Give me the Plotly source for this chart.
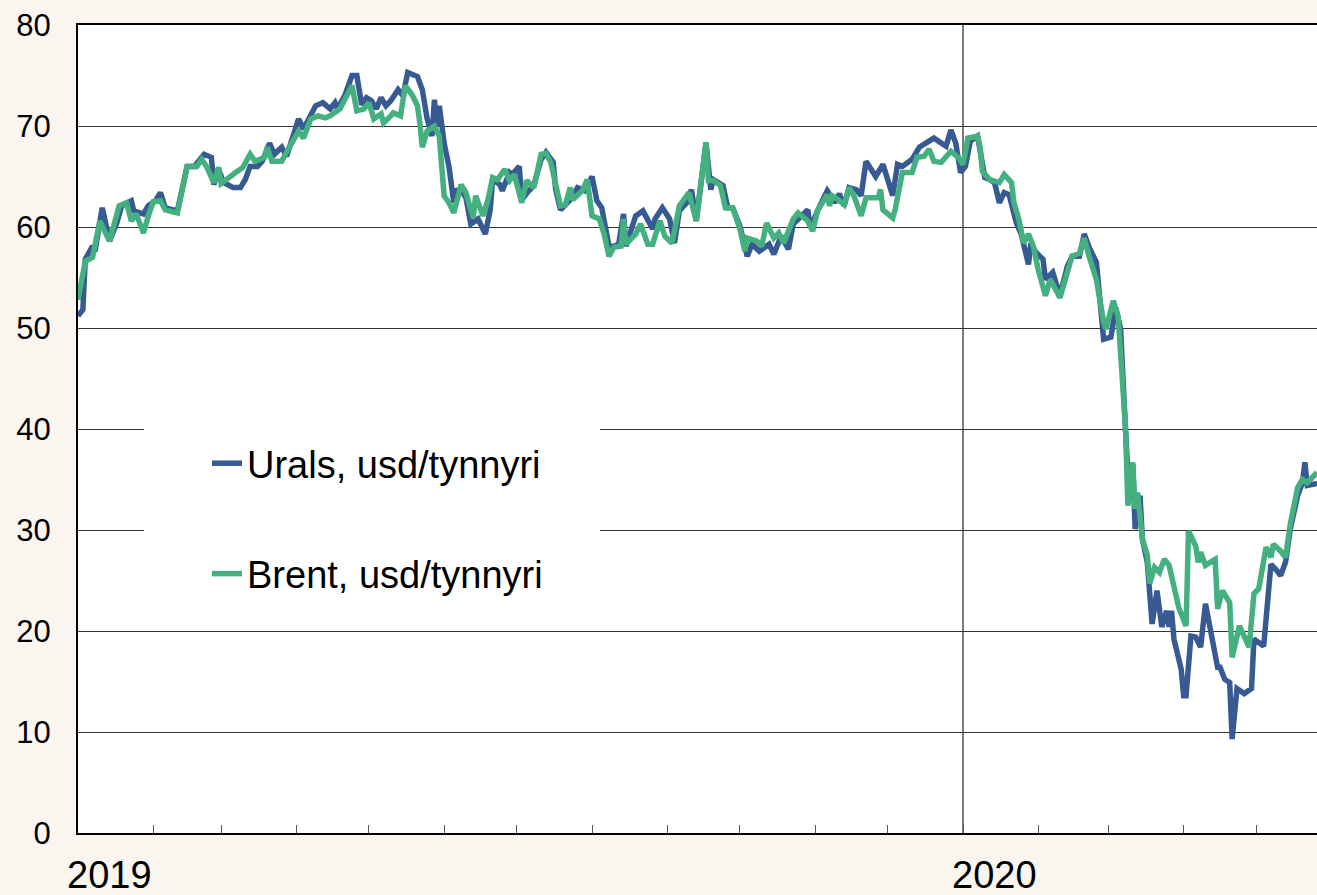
import plotly.graph_objects as go

# ---------------- data ----------------
urals_dates = [
    "2019-01-01","2019-01-03","2019-01-04","2019-01-07","2019-01-08","2019-01-11","2019-01-14","2019-01-17",
    "2019-01-19","2019-01-23","2019-01-24","2019-01-28","2019-01-30","2019-02-02","2019-02-04","2019-02-06",
    "2019-02-11","2019-02-15","2019-02-18","2019-02-22","2019-02-25","2019-02-26","2019-02-28","2019-03-02",
    "2019-03-06","2019-03-09","2019-03-11","2019-03-13","2019-03-16","2019-03-18","2019-03-21","2019-03-23",
    "2019-03-26","2019-03-28","2019-04-02","2019-04-04","2019-04-09","2019-04-12","2019-04-15","2019-04-17",
    "2019-04-18","2019-04-21","2019-04-24","2019-04-26","2019-04-28","2019-04-30","2019-05-02","2019-05-04",
    "2019-05-06","2019-05-08","2019-05-10","2019-05-13","2019-05-15","2019-05-17","2019-05-21","2019-05-23",
    "2019-05-25","2019-05-27","2019-05-28","2019-05-29","2019-05-30","2019-06-01","2019-06-03","2019-06-04",
    "2019-06-05","2019-06-06","2019-06-08","2019-06-10","2019-06-12","2019-06-15","2019-06-18","2019-06-20",
    "2019-06-21","2019-06-24","2019-06-25","2019-06-28","2019-06-29","2019-07-02","2019-07-03","2019-07-06",
    "2019-07-08","2019-07-11","2019-07-13","2019-07-16","2019-07-17","2019-07-19","2019-07-23","2019-07-26",
    "2019-07-28","2019-07-29","2019-08-01","2019-08-03","2019-08-05","2019-08-08","2019-08-10","2019-08-12",
    "2019-08-14","2019-08-15","2019-08-19","2019-08-22","2019-08-26","2019-08-27","2019-08-30","2019-09-02",
    "2019-09-04","2019-09-06","2019-09-09","2019-09-11","2019-09-13","2019-09-17","2019-09-19","2019-09-20",
    "2019-09-24","2019-09-26","2019-09-28","2019-10-01","2019-10-04","2019-10-06","2019-10-09","2019-10-13",
    "2019-10-15","2019-10-18","2019-10-21","2019-10-23","2019-10-29","2019-10-30","2019-11-02","2019-11-06",
    "2019-11-08","2019-11-09","2019-11-11","2019-11-13","2019-11-15","2019-11-18","2019-11-20","2019-11-22",
    "2019-11-26","2019-11-29","2019-12-03","2019-12-05","2019-12-07","2019-12-11","2019-12-14","2019-12-17",
    "2019-12-20","2019-12-25","2019-12-27","2019-12-29","2019-12-31","2020-01-02","2020-01-04","2020-01-07",
    "2020-01-09","2020-01-10","2020-01-12","2020-01-14","2020-01-16","2020-01-18","2020-01-20","2020-01-23",
    "2020-01-25","2020-01-28","2020-01-29","2020-01-31","2020-02-03","2020-02-04","2020-02-07","2020-02-10",
    "2020-02-13","2020-02-15","2020-02-18","2020-02-20","2020-02-22","2020-02-25","2020-02-28","2020-03-02",
    "2020-03-04","2020-03-06","2020-03-08","2020-03-09","2020-03-11","2020-03-12","2020-03-14","2020-03-15",
    "2020-03-17","2020-03-19","2020-03-21","2020-03-23","2020-03-25","2020-03-26","2020-03-27","2020-03-28",
    "2020-03-31","2020-04-01","2020-04-02","2020-04-04","2020-04-06","2020-04-08","2020-04-10","2020-04-13",
    "2020-04-15","2020-04-16","2020-04-18","2020-04-20","2020-04-21","2020-04-23","2020-04-26","2020-04-29",
    "2020-04-30","2020-05-04","2020-05-07","2020-05-09","2020-05-11","2020-05-13","2020-05-15","2020-05-18",
    "2020-05-20","2020-05-21","2020-05-22","2020-05-26",
]
urals = [
    51.2, 51.8, 56.8, 58.1, 57.6, 61.9, 58.6, 60.4,
    62.1, 62.6, 61.6, 61.3, 62.1, 62.6, 63.4, 61.9,
    61.6, 66.0, 66.0, 67.2, 66.9, 64.2, 65.7, 64.4,
    63.9, 63.9, 64.7, 66.0, 66.0, 66.5, 68.3, 67.2,
    67.9, 67.0, 70.7, 69.7, 72.0, 72.3, 71.7, 72.3,
    71.7, 73.0, 75.0, 75.0, 72.1, 72.8, 72.5, 71.7,
    72.8, 72.0, 72.5, 73.6, 73.0, 75.3, 74.9, 73.6,
    70.7, 69.0, 72.6, 70.0, 72.0, 68.3, 66.0, 64.4,
    62.4, 63.6, 63.7, 62.9, 60.3, 60.8, 59.3, 61.7,
    64.7, 64.2, 63.6, 65.4, 65.2, 66.0, 62.7, 63.6,
    64.1, 66.7, 67.4, 66.4, 63.7, 61.7, 62.7, 63.9,
    63.7, 63.6, 65.0, 62.6, 61.9, 58.1, 58.1, 58.3,
    61.3, 58.1, 61.1, 61.6, 59.8, 60.8, 61.9, 60.8,
    58.4, 61.6, 62.4, 63.7, 60.6, 68.3, 63.7, 64.7,
    64.1, 61.9, 61.9, 60.1, 57.1, 58.3, 57.6, 58.3,
    57.3, 59.1, 57.8, 60.3, 61.7, 59.9, 61.6, 63.6,
    62.9, 62.4, 63.3, 62.1, 63.9, 63.7, 63.1, 66.5,
    65.0, 66.2, 63.1, 66.2, 66.0, 66.7, 67.9, 68.3,
    68.8, 68.0, 69.6, 68.3, 65.4, 66.0, 68.5, 69.0,
    66.7, 64.9, 64.7, 64.4, 62.4, 63.4, 63.2, 60.4,
    59.3, 56.3, 58.4, 57.5, 56.8, 54.8, 55.5, 53.2,
    56.1, 57.1, 57.1, 59.3, 58.0, 56.5, 48.9, 49.1,
    52.0, 49.9, 40.0, 35.7, 36.5, 30.1, 33.4, 29.1,
    26.8, 20.7, 24.0, 20.4, 22.0, 20.4, 22.0, 19.2,
    16.2, 13.6, 13.6, 19.5, 19.4, 18.4, 22.7, 19.0,
    16.4, 16.4, 15.2, 14.9, 9.3, 14.3, 13.8, 14.3,
    19.2, 18.5, 26.6, 26.1, 25.5, 26.8, 30.1, 33.4,
    34.7, 36.7, 34.4, 34.6,
]

brent_dates = [
    "2019-01-01","2019-01-04","2019-01-07","2019-01-10","2019-01-14","2019-01-16","2019-01-18","2019-01-21",
    "2019-01-23","2019-01-25","2019-01-28","2019-01-30","2019-02-01","2019-02-04","2019-02-06","2019-02-11",
    "2019-02-15","2019-02-19","2019-02-21","2019-02-23","2019-02-26","2019-02-28","2019-03-01","2019-03-07",
    "2019-03-10","2019-03-13","2019-03-15","2019-03-19","2019-03-20","2019-03-22","2019-03-26","2019-03-28",
    "2019-03-30","2019-04-02","2019-04-04","2019-04-07","2019-04-10","2019-04-13","2019-04-15","2019-04-17",
    "2019-04-19","2019-04-21","2019-04-24","2019-04-26","2019-04-29","2019-05-01","2019-05-03","2019-05-06",
    "2019-05-07","2019-05-10","2019-05-11","2019-05-14","2019-05-16","2019-05-19","2019-05-21","2019-05-22",
    "2019-05-23","2019-05-25","2019-05-28","2019-05-30","2019-06-01","2019-06-03","2019-06-05","2019-06-08",
    "2019-06-10","2019-06-13","2019-06-14","2019-06-17","2019-06-19","2019-06-21","2019-06-23","2019-06-26",
    "2019-06-28","2019-06-30","2019-07-02","2019-07-03","2019-07-05","2019-07-08","2019-07-11","2019-07-13",
    "2019-07-15","2019-07-19","2019-07-21","2019-07-23","2019-07-24","2019-07-28","2019-07-30","2019-08-01",
    "2019-08-04","2019-08-06","2019-08-08","2019-08-10","2019-08-13","2019-08-14","2019-08-15","2019-08-19",
    "2019-08-21","2019-08-24","2019-08-26","2019-08-29","2019-08-31","2019-09-03","2019-09-06","2019-09-10",
    "2019-09-13","2019-09-17","2019-09-18","2019-09-20","2019-09-23","2019-09-25","2019-09-28","2019-10-01",
    "2019-10-03","2019-10-04","2019-10-08","2019-10-10","2019-10-12","2019-10-15","2019-10-17","2019-10-19",
    "2019-10-23","2019-10-25","2019-10-29","2019-10-31","2019-11-02","2019-11-06","2019-11-07","2019-11-08",
    "2019-11-10","2019-11-13","2019-11-15","2019-11-17","2019-11-20","2019-11-22","2019-11-27","2019-11-28",
    "2019-11-29","2019-12-03","2019-12-04","2019-12-07","2019-12-11","2019-12-13","2019-12-16","2019-12-18",
    "2019-12-20","2019-12-23","2019-12-27","2019-12-30","2020-01-01","2020-01-03","2020-01-07","2020-01-08",
    "2020-01-09","2020-01-12","2020-01-16","2020-01-18","2020-01-21","2020-01-22","2020-01-24","2020-01-26",
    "2020-01-28","2020-01-30","2020-02-01","2020-02-04","2020-02-06","2020-02-10","2020-02-13","2020-02-15",
    "2020-02-18","2020-02-20","2020-02-22","2020-02-25","2020-02-28","2020-02-29","2020-03-03","2020-03-05",
    "2020-03-06","2020-03-08","2020-03-09","2020-03-11","2020-03-12","2020-03-13","2020-03-15","2020-03-17",
    "2020-03-18","2020-03-20","2020-03-22","2020-03-24","2020-03-26","2020-03-28","2020-03-30","2020-04-02",
    "2020-04-03","2020-04-06","2020-04-07","2020-04-08","2020-04-10","2020-04-14","2020-04-15","2020-04-17",
    "2020-04-20","2020-04-21","2020-04-24","2020-04-28","2020-04-30","2020-05-02","2020-05-05","2020-05-07",
    "2020-05-08","2020-05-11","2020-05-13","2020-05-15","2020-05-18","2020-05-20","2020-05-22","2020-05-26",
]
brent = [
    52.8, 56.6, 57.0, 60.6, 58.6, 60.4, 62.1, 62.4,
    60.6, 61.3, 59.4, 61.1, 62.5, 62.6, 61.7, 61.4,
    66.0, 66.0, 66.7, 66.0, 64.4, 65.9, 64.3, 65.4,
    65.9, 67.2, 66.5, 66.9, 67.9, 66.5, 66.5, 67.4,
    68.2, 69.5, 68.8, 70.7, 71.0, 70.8, 71.0, 71.3,
    71.7, 72.6, 74.0, 71.5, 71.7, 72.3, 70.7, 71.2,
    70.3, 71.0, 71.3, 71.0, 74.0, 73.0, 72.0, 70.3,
    67.9, 69.5, 70.0, 69.0, 63.1, 62.4, 61.4, 64.2,
    63.4, 60.9, 63.1, 61.1, 62.6, 64.9, 64.7, 65.7,
    64.6, 65.2, 63.6, 62.4, 64.6, 63.9, 67.2, 67.3,
    66.4, 62.1, 62.2, 63.9, 62.7, 63.6, 64.7, 61.1,
    60.8, 59.3, 57.1, 58.0, 58.1, 60.8, 58.3, 59.3,
    60.3, 58.3, 58.3, 60.6, 59.1, 58.4, 62.1, 63.4,
    60.6, 68.4, 64.6, 64.6, 64.1, 61.9, 61.9, 59.8,
    57.6, 58.9, 58.6, 58.1, 60.4, 58.9, 59.4, 58.4,
    60.8, 61.4, 60.6, 59.6, 61.6, 63.2, 62.1, 63.1,
    62.8, 62.2, 63.9, 63.1, 61.1, 62.9, 62.9, 63.7,
    61.7, 60.9, 61.7, 65.4, 65.4, 66.9, 67.0, 67.7,
    66.5, 66.4, 67.5, 66.9, 66.2, 68.8, 69.0, 68.0,
    65.5, 64.7, 64.4, 65.2, 64.4, 62.4, 60.8, 58.4,
    59.3, 58.1, 55.8, 53.2, 54.8, 53.0, 55.5, 57.1,
    57.4, 58.9, 57.1, 54.8, 50.6, 49.9, 52.7, 51.1,
    47.5, 40.3, 32.4, 36.7, 32.1, 33.7, 29.1, 27.5,
    24.7, 26.3, 25.8, 27.1, 26.5, 24.2, 22.3, 20.5,
    29.9, 28.4, 26.8, 27.8, 26.5, 27.1, 22.2, 24.0,
    22.8, 17.4, 20.5, 18.4, 23.7, 24.2, 28.3, 27.3,
    28.6, 27.9, 27.3, 30.6, 34.2, 35.0, 34.7, 35.7,
]

month_ticks = [
    "2019-02-01","2019-03-01","2019-04-01","2019-05-01","2019-06-01","2019-07-01",
    "2019-08-01","2019-09-01","2019-10-01","2019-11-01","2019-12-01","2020-01-01",
    "2020-02-01","2020-03-01","2020-04-01","2020-05-01",
]
year_labels = ["2019", "2020"]
year_starts = ["2019-01-01", "2020-01-01"]
series_names = ["Urals, usd/tynnyri", "Brent, usd/tynnyri"]
x_range = ["2019-01-01", "2020-05-26"]

FONT = "Liberation Sans, Arial, sans-serif"
BLUE = "#375A93"
GREEN = "#44B07F"
BG = "#FAF5EF"

fig = go.Figure()
fig.add_trace(go.Scatter(x=urals_dates, y=urals, mode="lines", name=series_names[0],
                         legendgroup="u", line=dict(color=BLUE, width=5.5)))
fig.add_trace(go.Scatter(x=brent_dates, y=brent, mode="lines", name=series_names[1],
                         legendgroup="b", line=dict(color=GREEN, width=5.5)))

# white legend panel
fig.add_shape(type="rect", xref="paper", yref="paper",
              x0=(144 - 78) / 1239, x1=(600 - 78) / 1239,
              y0=(833 - 600) / 808, y1=(833 - 418) / 808,
              fillcolor="white", line=dict(width=0), layer="above")
# vertical year divider
fig.add_shape(type="line", xref="x", yref="paper", x0=year_starts[1], x1=year_starts[1],
              y0=0, y1=1, line=dict(color="#7a7a7a", width=2), layer="between")

for lab, d in zip(year_labels, year_starts):
    fig.add_annotation(x=d, xref="x", y=0, yref="paper", text=lab, showarrow=False,
                       xanchor="left", yanchor="top", xshift=-13, yshift=-19,
                       font=dict(family=FONT, size=38, color="black"))

fig.update_layout(
    width=1317, height=895,
    margin=dict(l=78, r=0, t=25, b=62),
    paper_bgcolor=BG, plot_bgcolor="white",
    font=dict(family=FONT, color="black"),
    showlegend=True,
    legend=dict(x=(207 - 78) / 1239, y=(833 - 432) / 808, xanchor="left", yanchor="top",
                bgcolor="rgba(0,0,0,0)", borderwidth=0,
                font=dict(family=FONT, size=38, color="black"),
                traceorder="grouped", tracegroupgap=58, itemwidth=30),
)
fig.update_xaxes(type="date", range=x_range, showgrid=False, zeroline=False,
                 showline=True, linecolor="black", linewidth=2, mirror=True,
                 tickvals=month_ticks, ticks="inside", ticklen=8, tickcolor="#555",
                 tickwidth=1, showticklabels=False)
fig.update_yaxes(range=[0, 80], dtick=10, showgrid=True, gridcolor="#333", gridwidth=1.2,
                 zeroline=False, showline=True, linecolor="black", linewidth=2,
                 ticks="", ticklabelstandoff=19,
                 tickfont=dict(family=FONT, size=31, color="black"))

fig.write_html("out.html", config={"displayModeBar": False})

# remove the browser's default page margin so the figure fills the window exactly
with open("out.html", "r", encoding="utf-8") as f:
    html = f.read()
html = html.replace("<head>", "<head><style>html,body{margin:0;padding:0;overflow:hidden;}</style>", 1)
with open("out.html", "w", encoding="utf-8") as f:
    f.write(html)
